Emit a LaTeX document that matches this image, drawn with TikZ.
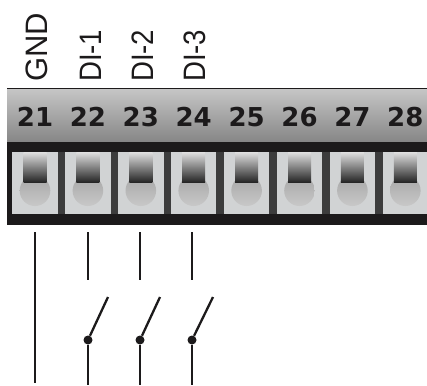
\documentclass[tikz,border=0pt]{standalone}
\usepackage{xcolor}
\usepackage{fontspec}
\setmainfont{Liberation Sans}
\newfontfamily\numfont{DejaVu Sans}
\newfontfamily\signalfont{Liberation Sans}
\usetikzlibrary{positioning}
\definecolor{cellgray}{HTML}{D1D3D4}
\definecolor{gapgray}{HTML}{3C3C3C}
\definecolor{inkblack}{HTML}{1C1A1B}

\newcommand{\narrowed}[1]{\scalebox{0.89}[1]{#1}}

\tikzset{
  terminal/.style={rectangle, inner sep=0pt, minimum width=45.5pt, minimum height=62pt,
    fill=cellgray,
    path picture={
      \shade[top color=black!45, bottom color=black!18]
        ([yshift=-7.7pt]path picture bounding box.center) circle (15.3pt);
      \shade[top color=black!12, bottom color=black!85]
        ([xshift=-11.5pt]path picture bounding box.north) rectangle
        ([xshift=11.5pt,yshift=-30pt]path picture bounding box.north);
    }},
  number/.style={inner sep=0pt, text depth=0pt, text=inkblack,
    font=\numfont\bfseries\fontsize{26}{26}\selectfont},
  signal/.style={rotate=90, anchor=base west, inner sep=0pt, text=inkblack,
    font=\signalfont\fontsize{31}{31}\selectfont},
  wire/.style={draw=inkblack, line width=2.3pt},
  pivot/.style={circle, fill=inkblack, inner sep=0pt, minimum size=9pt}
}

\begin{document}
\begin{tikzpicture}[x=1pt, y=-1pt, node distance=7pt]
      \clip (0,0) rectangle (427,385);

      % terminal block body
      \fill[inkblack] (7,141) rectangle (427,225);
      \shade[top color=black!22, bottom color=black!47] (7,88) rectangle (427,141);
      \draw[inkblack, line width=0.8pt] (7,88) -- (427,88);
      \fill[gapgray] (50,152) rectangle (427,214);

      \node[terminal] (t21) at (35,183) {};
      \node[terminal] (t22) [right=of t21] {};
      \node[terminal] (t23) [right=of t22] {};
      \node[terminal] (t24) [right=of t23] {};
      \node[terminal] (t25) [right=of t24] {};
      \node[terminal] (t26) [right=of t25] {};
      \node[terminal] (t27) [right=of t26] {};
      \node[terminal] (t28) [right=of t27] {};
      \fill[cellgray] (t28.north east) rectangle (427,214);

      \node[number] (n21) [above=25pt of t21] {21};
      \node[number] (n22) [above=25pt of t22] {22};
      \node[number] (n23) [above=25pt of t23] {23};
      \node[number] (n24) [above=25pt of t24] {24};
      \node[number] (n25) [above=25pt of t25] {25};
      \node[number] (n26) [above=25pt of t26] {26};
      \node[number] (n27) [above=25pt of t27] {27};
      \node[number] (n28) [above=25pt of t28] {28};

      % signal names
      \node[signal] (gnd) at (47,82) {GND};
      \node[signal] (di1) at (101.5,82) {\narrowed{DI-1}};
      \node[signal] (di2) at (153.5,82) {\narrowed{DI-2}};
      \node[signal] (di3) at (205.5,82) {\narrowed{DI-3}};

      % wiring
      \coordinate (a21) at (35,232);
      \coordinate (b21) at (35,383);
      \coordinate (a22) at (88,232);
      \coordinate (b22) at (88,280);
      \coordinate (a23) at (140,232);
      \coordinate (b23) at (140,280);
      \coordinate (a24) at (192,232);
      \coordinate (b24) at (192,280);

      \node[pivot] (s22) at (88,340) {};
      \node[pivot] (s23) at (140,340) {};
      \node[pivot] (s24) at (192,340) {};
      \coordinate (e22) at (108,297);
      \coordinate (e23) at (160,297);
      \coordinate (e24) at (213,297);
      \coordinate (f22) at (88,385);
      \coordinate (f23) at (140,385);
      \coordinate (f24) at (192,385);

      \path[wire] (a21) edge (b21)
                  (a22) edge (b22)
                  (a23) edge (b23)
                  (a24) edge (b24)
                  (s22) edge (e22)
                        edge (f22)
                  (s23) edge (e23)
                        edge (f23)
                  (s24) edge (e24)
                        edge (f24);
    \end{tikzpicture}
\end{document}
